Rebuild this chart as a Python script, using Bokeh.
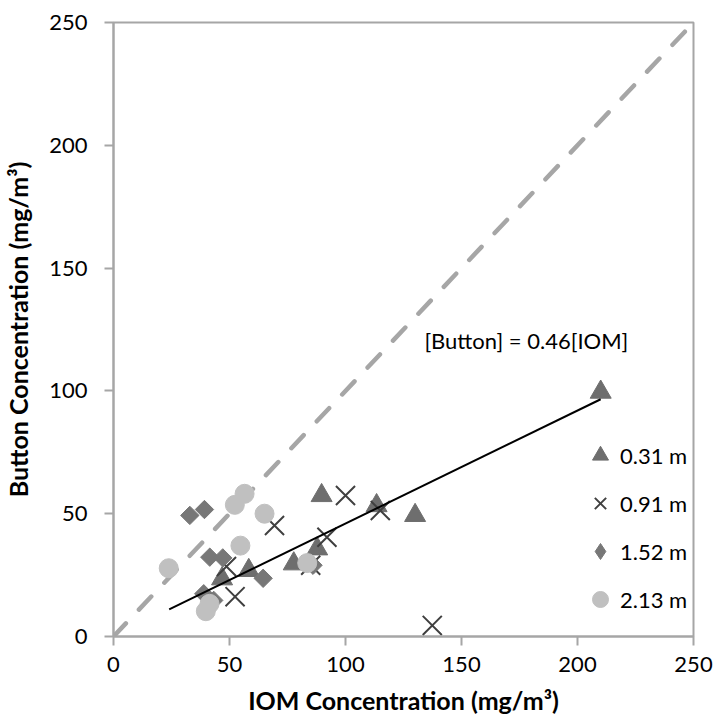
import math
from bokeh.plotting import figure
from bokeh.models import Range1d, FixedTicker, Legend, LegendItem, Label
from bokeh.embed import file_html
from bokeh.resources import INLINE

# ---- data ----
h031_x = [89.7, 113.4, 130.0, 87.8, 77.7, 58.3, 46.8, 210.0]
h031_y = [57.4, 53.3, 49.3, 35.7, 29.6, 26.9, 23.5, 99.5]

h091_x = [69.4, 48.7, 52.4, 100.0, 115.0, 92.0, 85.0, 137.4]
h091_y = [45.2, 28.5, 16.2, 57.4, 51.3, 40.4, 29.0, 4.5]

h152_x = [32.9, 39.2, 41.5, 47.1, 64.5, 38.9, 43.2, 86.0]
h152_y = [49.3, 51.7, 32.3, 32.0, 23.7, 17.4, 14.7, 29.0]

h213_x = [56.5, 52.3, 65.1, 54.7, 23.8, 41.4, 39.8, 83.5]
h213_y = [58.1, 53.6, 50.0, 37.0, 27.8, 13.3, 10.3, 29.9]

series_labels = ["0.31 m", "0.91 m", "1.52 m", "2.13 m"]

slope = 0.46
fit_x = [24.0, 210.0]
fit_y = [slope * v for v in fit_x]
one_to_one = [0.0, 250.0]

ticks = [0, 50, 100, 150, 200, 250]

FONT = "Lato"
FS = "22px"
TFS = "25px"

p = figure(width=718, height=727, output_backend="svg", toolbar_location=None,
           x_range=Range1d(0, 250), y_range=Range1d(0, 250),
           min_border_left=113, min_border_right=25, min_border_top=22,
           min_border_bottom=91)
p.background_fill_color = "white"
p.border_fill_color = "white"
p.outline_line_color = "#A6A6A6"
p.outline_line_width = 2
p.xgrid.visible = False
p.ygrid.visible = False

for ax in (p.xaxis[0], p.yaxis[0]):
    ax.ticker = FixedTicker(ticks=ticks)
    ax.axis_line_color = "#A6A6A6"
    ax.axis_line_width = 2
    ax.major_tick_line_color = "#A6A6A6"
    ax.major_tick_line_width = 2
    ax.major_tick_out = 9
    ax.major_tick_in = 0
    ax.minor_tick_line_color = None
    ax.major_label_text_font = FONT
    ax.major_label_text_font_size = FS
    ax.major_label_text_color = "black"
    ax.axis_label_text_font = FONT
    ax.axis_label_text_font_size = TFS
    ax.axis_label_text_font_style = "bold"
    ax.axis_label_text_color = "black"

p.xaxis.axis_label = "IOM Concentration (mg/m³)"
p.yaxis.axis_label = "Button Concentration (mg/m³)"
p.xaxis.major_label_standoff = 11
p.yaxis.major_label_standoff = 17
p.xaxis.axis_label_standoff = 10
p.yaxis.axis_label_standoff = 13

# 1:1 dashed line
p.line(one_to_one, one_to_one, line_color="#A6A6A6", line_width=4.5,
       line_dash="18 19", line_cap="round")

r1 = p.scatter(h031_x, h031_y, marker="triangle", size=21,
               fill_color="#6E6E6E", line_color="#6E6E6E", line_width=1)
r2 = p.scatter(h091_x, h091_y, marker="x", size=27,
               line_color="#404040", line_width=2)
r3 = p.scatter(h152_x, h152_y, marker="square", size=13, angle=math.pi / 4,
               fill_color="#777777", line_color="#777777", line_width=1)
r4 = p.scatter(h213_x, h213_y, marker="circle", size=19,
               fill_color="#C0C0C0", line_color="#C0C0C0", line_width=1)

# legend-only key for the diamond series (legend glyphs are not rotated)
r3_key = p.scatter(h152_x, h152_y, marker="diamond", size=18,
                   fill_color="#777777", line_color="#777777", line_width=1)
r3_key.visible = False

p.line(fit_x, fit_y, line_color="black", line_width=2)

p.add_layout(Label(x=134, y=120.5, text="[Button] = 0.46[IOM]",
                   text_font=FONT, text_font_size=FS, text_color="black",
                   text_baseline="middle", text_align="left"))

legend = Legend(items=[LegendItem(label=series_labels[i], renderers=[r])
                       for i, r in enumerate([r1, r2, r3_key, r4])],
                location=(467, 17), orientation="vertical",
                glyph_width=40, glyph_height=40, label_height=40,
                spacing=8, padding=0, margin=0, label_standoff=-6,
                label_text_font=FONT, label_text_font_size=FS,
                label_text_color="black", click_policy="none",
                inactive_fill_alpha=0,
                background_fill_alpha=0, border_line_color=None)
p.add_layout(legend)

open("out.html", "w").write(file_html(p, INLINE))
